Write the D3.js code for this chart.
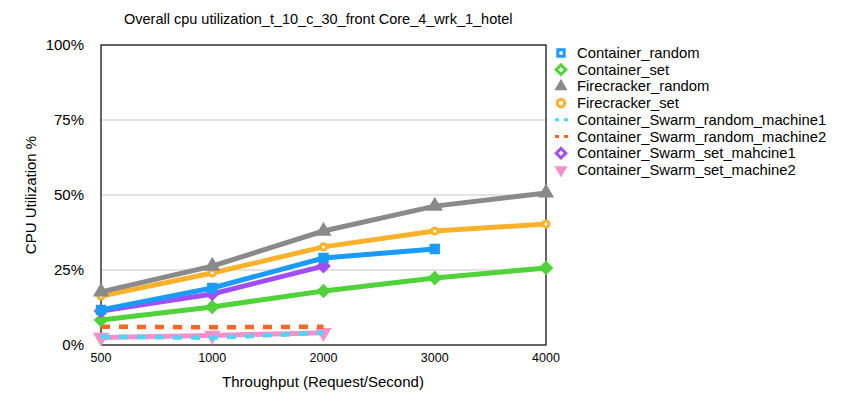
<!DOCTYPE html>
<html><head><meta charset="utf-8">
<script src="https://cdn.jsdelivr.net/npm/d3@7"></script>
<style>body{margin:0;background:#fff;font-family:"Liberation Sans",Arial,Helvetica,sans-serif;}</style>
</head><body><svg id="c" width="842" height="403"></svg>
<script>
const categories = ["500","1000","2000","3000","4000"];
const yTicks = [0,25,50,75,100];
const containerRandom = [11.7,19,29,32];
const containerSet = [8.3,12.7,18,22.3,25.7];
const firecrackerRandom = [17.7,26.3,38,46.3,50.7];
const firecrackerSet = [16.3,24,32.7,38,40.3];
const swarmRandomM1 = [2.8,2.4,4.1];
const swarmRandomM2 = [6.1,5.9,6.1];
const swarmSetM1 = [11.3,17,26.3];
const swarmSetM2 = [2.5,3.2,4.1];

const series = [
 {name:"Container_random", vals:containerRandom, color:"#1a9bfc", marker:"square", dash:null},
 {name:"Container_set", vals:containerSet, color:"#4fd23a", marker:"diamond", dash:null},
 {name:"Firecracker_random", vals:firecrackerRandom, color:"#8a8a8a", marker:"triangle", dash:null},
 {name:"Firecracker_set", vals:firecrackerSet, color:"#fbb12a", marker:"circle", dash:null},
 {name:"Container_Swarm_random_machine1", vals:swarmRandomM1, color:"#4ed6f6", marker:null, dash:"9,9"},
 {name:"Container_Swarm_random_machine2", vals:swarmRandomM2, color:"#f2691f", marker:null, dash:"9,9"},
 {name:"Container_Swarm_set_mahcine1", vals:swarmSetM1, color:"#a04ef4", marker:"diamond", dash:null},
 {name:"Container_Swarm_set_machine2", vals:swarmSetM2, color:"#f590cb", marker:"triangleDown", dash:null}
];
const drawOrder = [7,4,5,1,6,0,3,2];

const svg = d3.select("#c");
const L=101,R=546,T=45,B=345;
const x = d3.scalePoint().domain(categories).range([L,R]);
const y = d3.scaleLinear().domain([0,100]).range([B,T]);

svg.append("g").selectAll("line").data(yTicks.filter(d=>d>0&&d<100)).join("line")
 .attr("x1",L).attr("x2",R).attr("y1",d=>y(d)).attr("y2",d=>y(d))
 .attr("stroke","#c8c8c8").attr("stroke-width",1);

svg.append("rect").attr("x",L).attr("y",T).attr("width",R-L).attr("height",B-T)
 .attr("fill","none").attr("stroke","#000").attr("stroke-width",1.2);

svg.append("g").selectAll("text").data(yTicks).join("text")
 .attr("x",84).attr("y",d=>y(d)+5).attr("text-anchor","end")
 .attr("font-size",15).text(d=>d+"%");
svg.append("g").selectAll("text").data(categories).join("text")
 .attr("x",d=>x(d)).attr("y",362).attr("text-anchor","middle")
 .attr("font-size",12.5).text(d=>d);

svg.append("text").attr("x",323).attr("y",387).attr("text-anchor","middle")
 .attr("font-size",15).text("Throughput (Request/Second)");
svg.append("text").attr("transform","translate(36,195) rotate(-90)").attr("text-anchor","middle")
 .attr("font-size",15).text("CPU Utilization %");
svg.append("text").attr("x",124).attr("y",24).attr("font-size",14.5).text("Overall cpu utilization_t_10_c_30_front Core_4_wrk_1_hotel");

function sym(m){
 return {square:d3.symbolSquare,diamond:d3.symbolSquare,triangle:d3.symbolTriangle,circle:d3.symbolCircle,triangleDown:d3.symbolTriangle}[m];
}
function drawMarker(g,m,color,cx,cy,size,hollow){
 const rot = m==="triangleDown"?" rotate(180)":(m==="diamond"?" rotate(45)":"");
 return g.append("path").attr("d",d3.symbol(sym(m),size)())
  .attr("transform",`translate(${cx},${cy})`+rot)
  .attr("stroke",color).attr("stroke-width",hollow?3:2)
  .attr("fill",hollow?"#fff":color);
}

const line = d3.line().x((d,i)=>x(categories[i])).y(d=>y(d));
drawOrder.forEach(k=>{
 const s = series[k];
 const g = svg.append("g");
 g.append("path").attr("d",line(s.vals)).attr("fill","none").attr("stroke",s.color)
  .attr("stroke-width",s.dash?4.5:5).attr("stroke-dasharray",s.dash);
 if(s.marker){
  s.vals.forEach((v,i)=>{
   if(s.marker==="circle") drawMarker(g,"circle",s.color,x(categories[i]),y(v),30,true);
   else drawMarker(g,s.marker,s.color,x(categories[i]),y(v),s.marker==="diamond"?70:70,false);
  });
 }
});

const lg = svg.append("g");
series.forEach((s,i)=>{
 const cy = 53 + i*16.7;
 if(s.marker){
  const hollow = s.marker!=="triangle"&&s.marker!=="triangleDown";
  drawMarker(lg,s.marker,s.color,561,cy,s.marker==="circle"?45:(s.marker==="diamond"?45:40),hollow);
 } else {
  lg.append("line").attr("x1",555).attr("x2",568).attr("y1",cy).attr("y2",cy)
   .attr("stroke",s.color).attr("stroke-width",3).attr("stroke-dasharray","4,5");
 }
 lg.append("text").attr("x",577).attr("y",cy+5).attr("font-size",14.8).text(s.name);
});
</script></body></html>
